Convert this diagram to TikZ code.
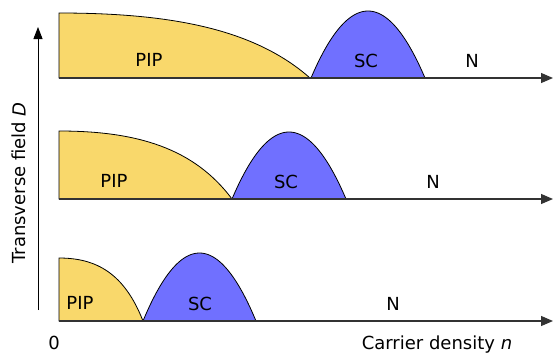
\documentclass[tikz,border=0pt]{standalone}
\usepackage{fontspec}
\setmainfont{DejaVu Sans}
\usetikzlibrary{arrows.meta}
\definecolor{pipc}{RGB}{249,216,107}
\definecolor{scc}{RGB}{112,112,255}
\begin{document}
\begin{tikzpicture}[x=1pt,y=-1pt,
  pip/.style={fill=pipc, draw=black, line width=0.8pt},
  sc/.style={fill=scc, draw=black, line width=0.8pt},
  haxis/.style={draw=black!80, line width=1.2pt, -{Triangle[length=12pt,width=10pt]}},
  vaxis/.style={draw=black, line width=0.9pt, -{Triangle[length=12pt,width=9pt]}},
  lbl/.style={font=\fontsize{18}{21}\selectfont, inner sep=0pt}]
\useasboundingbox (0,0) rectangle (554,354);
% panels: base, pip end x, pip top, sc left, sc right, sc top, pip label x, sc label x, N label x
\foreach \b/\pe/\pt/\sl/\sr/\st/\px/\sx/\nx [count=\i] in
  {78/310/13/311/425/11/149/366/472,
   199/232/131/232/346/132/114/286/433,
   321/143/258/143/256/253/80/200/393}{
  \path[pip] (59,\b) -- (59,\pt)
    .. controls ({59+0.45*(\pe-59)},\pt) and ({59+0.78*(\pe-59)},{\b-0.75*(\b-\pt)}) .. (\pe,\b) -- cycle;
  \path[sc] plot[domain=0:1, samples=60, smooth] ({\sl+(\sr-\sl)*\x}, {\b-(\b-\st)*4*\x*(1-\x)}) -- cycle;
  \coordinate (o\i) at (59,\b);
  \coordinate (e\i) at (553,\b);
  \draw[haxis] (o\i) -- (e\i);
  \node[lbl] (pip\i) at (\px,{\b-18}) {PIP};
  \node[lbl] (sc\i) at (\sx,{\b-17}) {SC};
  \node[lbl] (n\i) at (\nx,{\b-17}) {N};
}
\coordinate (vb) at (38,310);
\coordinate (vt) at (38,27);
\draw[vaxis] (vb) -- (vt);
\node[lbl, rotate=90] (ylab) at (19,183) {Transverse field \textit{D}};
\node[lbl] (zero) at (54,343) {0};
\node[lbl] (xlab) at (437,345) {Carrier density \textit{n}};
\end{tikzpicture}
\end{document}
